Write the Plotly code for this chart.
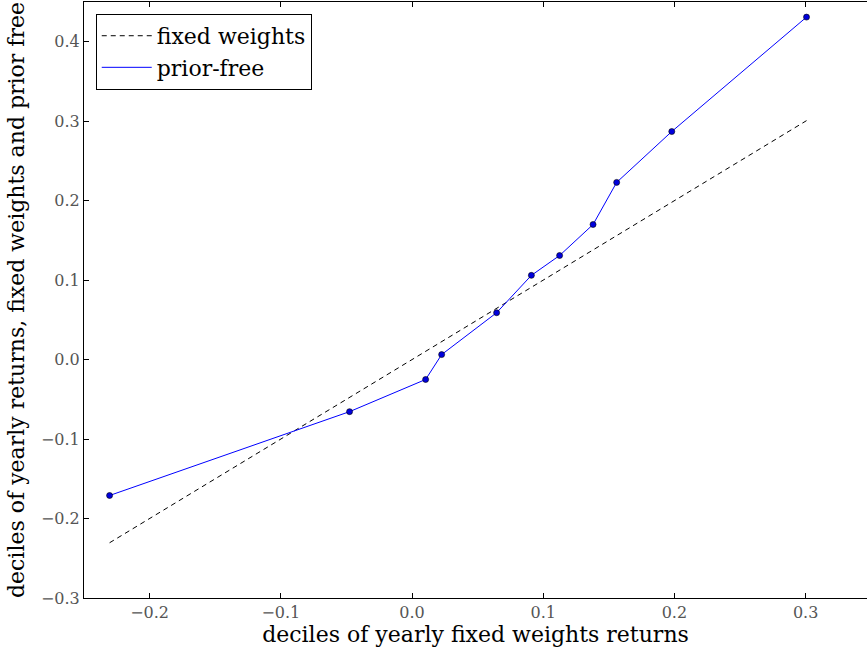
import plotly.graph_objects as go

deciles_fixed = [-0.2305, -0.0476, 0.0104, 0.0226, 0.0645, 0.091, 0.1125, 0.138, 0.156, 0.198, 0.3007]
deciles_prior_free = [-0.171, -0.0655, -0.025, 0.0063, 0.059, 0.106, 0.131, 0.170, 0.223, 0.287, 0.431]

x_ticks = [-0.2, -0.1, 0.0, 0.1, 0.2, 0.3]
x_tick_labels = ["\u22120.2", "\u22120.1", "0.0", "0.1", "0.2", "0.3"]
y_ticks = [-0.3, -0.2, -0.1, 0.0, 0.1, 0.2, 0.3, 0.4]
y_tick_labels = ["\u22120.3", "\u22120.2", "\u22120.1", "0.0", "0.1", "0.2", "0.3", "0.4"]

FONT = "DejaVu Serif"

fig = go.Figure()
fig.add_trace(go.Scatter(
    x=deciles_fixed, y=deciles_fixed, mode="lines", name="fixed weights",
    line=dict(color="black", width=1, dash="5px,4px"),
))
fig.add_trace(go.Scatter(
    x=deciles_fixed, y=deciles_prior_free, mode="lines", name="prior-free",
    line=dict(color="#0000ff", width=1),
))
fig.add_trace(go.Scatter(
    x=deciles_fixed, y=deciles_prior_free, mode="markers", showlegend=False,
    marker=dict(color="#0000dd", size=6, line=dict(color="black", width=0.6)),
))

fig.update_layout(
    width=867, height=653,
    margin=dict(l=84, r=0, t=2, b=55),
    plot_bgcolor="white", paper_bgcolor="white",
    font=dict(family=FONT, color="black"),
    showlegend=True,
    legend=dict(
        x=0.015, y=0.98, xanchor="left", yanchor="top",
        bordercolor="black", borderwidth=1, bgcolor="white",
        font=dict(family=FONT, size=22, color="black"),
        itemwidth=50, tracegroupgap=2,
    ),
    xaxis=dict(
        range=[-0.25, 0.3468], showgrid=False, zeroline=False, automargin=False,
        showline=True, linecolor="black", linewidth=1, mirror="ticks",
        ticks="inside", ticklen=5, tickcolor="black",
        tickvals=x_ticks, ticktext=x_tick_labels,
        tickfont=dict(family=FONT, size=16, color="#555555"),
        title=dict(text="deciles of yearly fixed weights returns",
                   font=dict(family=FONT, size=22, color="black"), standoff=4),
    ),
    yaxis=dict(
        range=[-0.3, 0.45], showgrid=False, zeroline=False, automargin=False,
        showline=True, linecolor="black", linewidth=1, mirror=False,
        ticks="inside", ticklen=5, tickcolor="black",
        tickvals=y_ticks, ticktext=y_tick_labels,
        tickfont=dict(family=FONT, size=16, color="#555555"),
        title=dict(text="deciles of yearly returns, fixed weights and prior free",
                   font=dict(family=FONT, size=22, color="black"), standoff=10),
    ),
)

fig.write_html("out.html", config={"displayModeBar": False},
               post_script="document.body.style.margin='0px';")
